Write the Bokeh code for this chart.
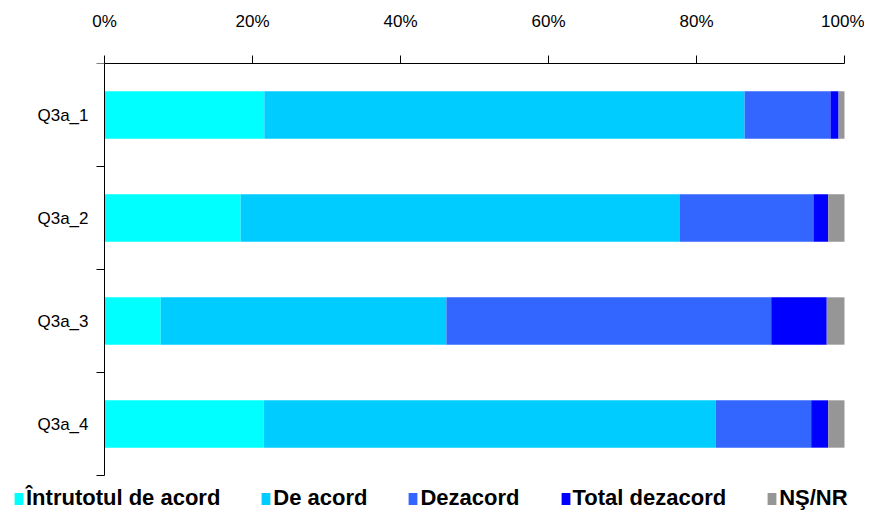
import math
from bokeh.plotting import figure
from bokeh.models import (Range1d, LinearAxis, FixedTicker, Legend, LegendItem,
                          ColumnDataSource, CustomJSTickFormatter)
from bokeh.core.properties import value
from bokeh.embed import file_html
from bokeh.resources import INLINE

categories = ["Q3a_1", "Q3a_2", "Q3a_3", "Q3a_4"]
series_names = ["Întrutotul de acord", "De acord", "Dezacord", "Total dezacord", "NŞ/NR"]
intrutotul = [21.6, 18.4, 7.6, 21.5]
de_acord = [64.9, 59.3, 38.6, 61.1]
dezacord = [11.6, 18.1, 43.9, 12.9]
total_dezacord = [1.1, 2.0, 7.5, 2.3]
ns_nr = [0.8, 2.2, 2.4, 2.2]
x_ticks = [0, 20, 40, 60, 80, 100]
colors = ["#00FFFF", "#00CCFF", "#3366FF", "#0000FF", "#969696"]

series = [intrutotul, de_acord, dezacord, total_dezacord, ns_nr]

# ---- layout (pixels) ----
W, H = 864, 511
TOP = 63                 # frame top
X0_PX, X100_PX = 104, 844   # where 0 % and 100 % sit
CAT_PX = 103             # height of one category band
px_per_unit = (X100_PX - X0_PX) / 100.0
x_start = -X0_PX / px_per_unit
x_end = 100 + (W - X100_PX) / px_per_unit
y_extent = (H - TOP) / CAT_PX
n = len(categories)

p = figure(width=W, height=H, output_backend="svg", toolbar_location=None,
           x_range=Range1d(x_start, x_end), y_range=Range1d(y_extent, 0),
           x_axis_location=None, y_axis_location=None,
           min_border_left=0, min_border_right=0, min_border_top=TOP,
           min_border_bottom=0)
p.outline_line_color = None
p.xgrid.visible = False
p.ygrid.visible = False

FONT = "Liberation Sans"

ypos = [i + 0.5 for i in range(n)]
bounds = list(range(n + 1))
left = [0.0] * n
items = []
for name, vals, col in zip(series_names, series, colors):
    right = [l + v for l, v in zip(left, vals)]
    src = ColumnDataSource(dict(y=ypos, left=left, right=right))
    r = p.hbar(y="y", left="left", right="right", height=0.46, source=src,
               fill_color=col, line_color=None)
    items.append(LegendItem(label=name, renderers=[r]))
    left = right

# category axis: line at 0 %, outward ticks between categories, labels
p.segment(x0=[0], y0=[bounds[0]], x1=[0], y1=[bounds[-1]],
          line_color="#000000", line_width=1)
p.ray(x=[0] * len(bounds), y=bounds, length=8, length_units="screen",
      angle=math.pi, line_color="#000000", line_width=1)
p.text(x=[0] * n, y=ypos, text=categories, x_offset=-16,
       text_align="right", text_baseline="middle",
       text_font=value(FONT), text_font_size="17px", text_color="#000000")

# top percent axis
xa = LinearAxis(ticker=FixedTicker(ticks=x_ticks), bounds=(0, 100))
xa.formatter = CustomJSTickFormatter(code="return tick.toFixed(0) + '%';")
xa.axis_line_color = "#000000"
xa.major_tick_line_color = "#000000"
xa.major_tick_out = 8
xa.major_tick_in = 0
xa.minor_tick_line_color = None
xa.major_label_standoff = 25
xa.major_label_text_font = FONT
xa.major_label_text_font_size = "17px"
xa.major_label_text_color = "#000000"
p.add_layout(xa, "above")

legend = Legend(items=items, orientation="horizontal", location=(13, 0))
legend.label_text_font = FONT
legend.label_text_font_style = "bold"
legend.label_text_font_size = "22px"
legend.label_text_color = "#000000"
legend.label_height = 22
legend.glyph_width = 11
legend.glyph_height = 15
legend.label_standoff = 2
legend.spacing = 40
legend.padding = 0
legend.margin = 0
legend.border_line_color = None
legend.background_fill_alpha = 0
p.add_layout(legend, "center")

open("out.html", "w").write(file_html(p, INLINE))
